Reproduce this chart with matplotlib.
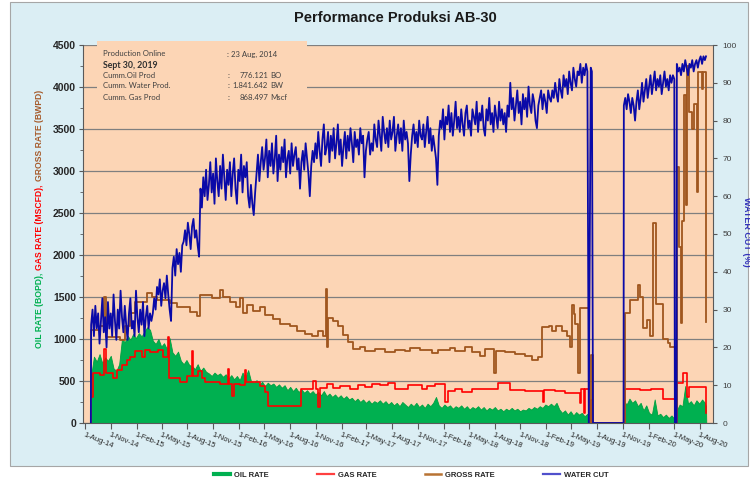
import matplotlib
matplotlib.use('Agg')
import matplotlib.pyplot as plt
import matplotlib.dates as mdates
from matplotlib.patches import Rectangle
from matplotlib.lines import Line2D
from matplotlib.ticker import MultipleLocator
import pandas as pd

# ---------------- data ----------------
title = 'Performance Produksi AB-30'
legend_labels = ['OIL RATE', 'GAS RATE', 'GROSS RATE', 'WATER CUT']
info_left = ['Production Online', 'Sept 30, 2019', 'Cumm.Oil Prod', 'Cumm. Water Prod.', 'Cumm. Gas Prod']
info_values = ['23 Aug, 2014', '', '776.121', '1.841.642', '868.497']
info_units = ['', '', 'BO', 'BW', 'Mscf']

# Water cut (%) - 5-day samples
wc_seg1_start = '2014-08-23'
wc_seg1 = [26, 30, 23, 31, 25, 29, 21, 27, 33, 24, 28, 20, 32, 25, 29, 23, 34, 27, 22, 30,
           25, 35, 28, 24, 31, 26, 22, 29, 33, 25, 27, 23, 35, 28, 24, 30, 26, 32, 23, 28,
           31, 25, 29, 27,
           29, 33, 30, 36, 34, 38, 31, 35, 37, 33, 39, 34, 30, 27,
           41, 44, 39, 46, 42, 45, 40, 47,
           48, 51, 47, 53, 50, 46, 52, 54, 49, 51, 47, 44,
           62, 57, 65, 60, 67, 59, 63, 69, 61, 66, 58, 70, 64, 60, 68, 62, 71, 65, 59, 67,
           63, 69, 60, 66, 70, 62, 58, 67, 64, 71, 61, 68, 65, 69,
           60, 57, 63, 58, 55, 61,
           66, 71, 64, 69, 73, 67, 70, 75, 65, 72, 68, 74, 66, 70, 76, 64, 71, 67, 73, 69,
           75, 65, 70, 72, 66, 74, 68, 71, 73, 67, 70, 62,
           69, 72, 67, 74, 70, 66, 60, 68, 72, 69,
           74, 70, 77, 72, 68, 75, 79, 71, 73, 77, 69, 76, 72, 78, 70, 74, 79, 71, 75, 68,
           73, 77, 70, 76, 72, 78, 74, 69, 77, 73, 75, 71, 78, 74, 76, 65, 72, 75, 77, 71,
           74, 72,
           79, 75, 73, 80, 76, 72, 81, 77, 74, 78, 73, 80, 75, 77, 81, 72, 76, 79, 74, 78,
           72, 80, 75, 77, 74, 64, 71, 76,
           79, 74, 77, 73, 80, 76, 75, 79, 73, 77, 81, 74, 78, 72, 76, 73, 70, 63,
           76, 80, 78, 83, 75, 81, 79, 84, 77, 82, 76, 80, 85, 78, 81, 77, 83, 79, 76, 82,
           84, 78, 80, 76, 83, 81, 79, 85, 77, 82, 80, 84, 78, 76, 83, 80, 86, 79, 82, 77,
           84, 81, 78, 85, 80, 83, 79, 82, 77, 84, 81, 90,
           83, 86, 80, 84, 88, 82, 85, 79, 87, 83, 86, 81, 89, 84, 82, 87, 85, 80, 78, 84,
           86, 88, 83, 87, 85, 82, 88, 86,
           85, 88, 86, 90, 87, 85, 91, 88, 86, 92, 89, 91, 87, 93, 90, 88, 94, 91, 89, 93,
           92, 95, 90, 94, 92, 95, 93]
wc_gap1_dates = ['2019-07-03', '2019-07-10', '2019-07-14', '2019-07-18', '2019-11-04']
wc_gap1_vals = [0, 94, 93, 0, 0]
wc_seg2_start = '2019-11-05'
wc_seg2 = [84, 86, 83, 87, 85, 82, 86, 84, 80, 85, 88, 83, 86, 90, 85, 88, 91, 86, 89, 92,
           87, 90, 93, 88, 91, 89, 92, 87, 90, 93, 89, 91, 88, 92, 90, 92]
wc_gap2_dates = ['2020-05-03', '2020-05-05', '2020-05-11']
wc_gap2_vals = [91, 0, 0]
wc_seg3_start = '2020-05-12'
wc_seg3 = [95, 93, 94, 92, 95, 93, 96, 94, 92, 95, 94, 96, 93, 95, 96, 94, 96, 97, 95, 97, 96]
wc_end_dates = ['2020-08-24']
wc_end_vals = [97]

# Oil rate (BOPD) - 10-day samples
oil_seg1_start = '2014-08-23'
oil_seg1 = [560, 790, 730, 820, 710, 780, 740, 800, 650, 620,
            700, 1000, 960, 1040, 990, 1060, 1010, 1070, 1030, 1090,
            1140, 1110,
            980, 940, 1000, 910, 950, 880,
            1010,
            840, 800, 850,
            740, 700, 750, 690,
            680, 640, 700, 620, 660, 610,
            590, 560, 600, 570, 590,
            550, 580, 530, 570, 520, 560, 510, 600, 540, 630, 500,
            480, 510, 460, 490, 440, 480, 450, 470, 430, 460,
            420, 450, 390, 430, 380, 420, 370, 400, 360, 390, 350, 380,
            340, 370, 330, 380, 320, 350, 310, 340, 300, 330, 290, 320,
            280, 300, 260, 290, 250, 280, 240, 270, 230, 260, 240, 270,
            230, 260, 220, 250, 210, 240, 200, 250, 220, 190, 230, 200, 240, 190, 220, 180, 230, 200, 240, 310,
            210, 180, 220, 190, 210, 170, 200, 180, 210, 170, 200, 160, 190, 170, 200, 160, 190, 150, 180, 160,
            190, 150, 170, 140, 170, 150, 180, 150, 170, 140, 160, 150, 180, 160, 190, 170, 200, 180, 220, 200,
            230, 200, 240, 160, 120, 150, 100, 140, 90, 130, 100, 120, 80, 110]
oil_gap1_dates = ['2019-07-02', '2019-07-03', '2019-11-04']
oil_gap1_vals = [100, 0, 0]
oil_seg2_start = '2019-11-05'
oil_seg2 = [260, 220, 290, 240, 270, 200, 240, 150, 210, 120, 100, 280, 90, 110, 70, 100, 60, 90, 50]
oil_gap2_dates = ['2020-05-05', '2020-05-11']
oil_gap2_vals = [0, 0]
oil_seg3_start = '2020-05-12'
oil_seg3 = [150, 220, 200, 440, 230, 260, 210, 270, 230, 280, 240]
oil_end_dates = ['2020-08-24', '2020-08-25']
oil_end_vals = [200, 0]

# Gross rate (BWPD) - step changes
gross_steps = [('2014-08-21', 0), ('2014-08-22', 1110), ('2014-09-23', 1150), ('2014-10-08', 1500),
               ('2014-10-15', 1020), ('2014-12-04', 990), ('2014-12-22', 1150), ('2015-01-08', 1310),
               ('2015-01-26', 1440), ('2015-03-10', 1550), ('2015-03-28', 1500), ('2015-04-15', 1460),
               ('2015-05-31', 1430), ('2015-06-25', 1380), ('2015-08-10', 1320), ('2015-09-04', 1270),
               ('2015-09-15', 1520), ('2015-10-28', 1490), ('2015-11-25', 1580), ('2015-12-06', 1500),
               ('2015-12-31', 1440), ('2016-01-21', 1380), ('2016-02-05', 1490), ('2016-02-15', 1310),
               ('2016-03-01', 1400), ('2016-03-22', 1330), ('2016-04-16', 1380), ('2016-05-04', 1290),
               ('2016-06-01', 1240), ('2016-06-26', 1180), ('2016-08-01', 1150), ('2016-08-26', 1100),
               ('2016-09-24', 1060), ('2016-10-19', 1030), ('2016-11-09', 1090), ('2016-11-27', 1040),
               ('2016-12-07', 1600), ('2016-12-11', 900), ('2016-12-15', 1250), ('2017-01-01', 1220),
               ('2017-01-19', 1150), ('2017-02-06', 1050), ('2017-02-24', 960), ('2017-03-14', 880),
               ('2017-04-08', 910), ('2017-04-26', 860), ('2017-05-31', 880), ('2017-07-06', 850),
               ('2017-08-11', 870), ('2017-09-15', 860), ('2017-10-03', 890), ('2017-11-08', 870),
               ('2017-12-21', 830), ('2018-01-11', 870), ('2018-02-23', 890), ('2018-03-13', 860),
               ('2018-04-17', 900), ('2018-05-12', 840), ('2018-06-10', 800), ('2018-06-28', 880),
               ('2018-07-30', 600), ('2018-08-06', 860), ('2018-09-07', 850), ('2018-10-13', 820),
               ('2018-11-17', 800), ('2018-12-12', 750), ('2019-01-03', 790), ('2019-01-17', 1140),
               ('2019-02-11', 1150), ('2019-02-21', 1090), ('2019-03-08', 1160), ('2019-03-29', 1100),
               ('2019-04-16', 1030), ('2019-04-27', 910), ('2019-05-04', 1410), ('2019-05-10', 1300),
               ('2019-05-16', 1180), ('2019-05-25', 600), ('2019-06-01', 1370), ('2019-07-03', 0),
               ('2019-07-10', 810), ('2019-07-18', 0), ('2019-11-09', 1310), ('2019-11-27', 1460),
               ('2019-12-25', 1640), ('2020-01-01', 1500), ('2020-01-12', 1130), ('2020-01-26', 1230),
               ('2020-02-06', 1030), ('2020-02-17', 2380), ('2020-02-27', 1420), ('2020-03-23', 1000),
               ('2020-04-10', 950), ('2020-04-17', 900), ('2020-05-05', 0), ('2020-05-12', 3050),
               ('2020-05-19', 2100), ('2020-05-27', 1190), ('2020-05-30', 2400), ('2020-06-06', 3900),
               ('2020-06-13', 2600), ('2020-06-17', 4250), ('2020-06-24', 3700), ('2020-07-05', 3500),
               ('2020-07-12', 3800), ('2020-07-23', 2750), ('2020-07-26', 4180), ('2020-08-10', 3980),
               ('2020-08-13', 4180), ('2020-08-24', 1200), ('2020-08-25', 1200)]

# Gas rate (MSCFD) - step changes
gas_steps = [('2014-08-21', 0), ('2014-08-22', 310), ('2014-08-30', 600), ('2014-09-23', 570),
             ('2014-10-08', 880), ('2014-10-15', 590), ('2014-11-08', 530), ('2014-11-23', 630),
             ('2014-12-11', 690), ('2014-12-29', 750), ('2015-01-08', 790), ('2015-01-26', 860),
             ('2015-02-20', 790), ('2015-03-03', 870), ('2015-03-21', 840), ('2015-04-18', 870),
             ('2015-05-06', 790), ('2015-05-20', 780), ('2015-05-24', 1020), ('2015-05-28', 540),
             ('2015-07-06', 490), ('2015-07-31', 560), ('2015-08-18', 860), ('2015-08-21', 560),
             ('2015-09-08', 620), ('2015-09-22', 530), ('2015-10-03', 490), ('2015-11-25', 470),
             ('2015-12-24', 640), ('2015-12-28', 460), ('2016-01-07', 320), ('2016-01-14', 470),
             ('2016-02-05', 450), ('2016-02-23', 630), ('2016-02-26', 490), ('2016-04-16', 440),
             ('2016-05-04', 370), ('2016-05-15', 200), ('2016-09-09', 410), ('2016-10-22', 500),
             ('2016-11-02', 410), ('2016-11-09', 190), ('2016-11-16', 420), ('2016-12-11', 460),
             ('2017-01-01', 420), ('2017-01-26', 440), ('2017-03-03', 410), ('2017-04-01', 450),
             ('2017-04-26', 430), ('2017-05-21', 470), ('2017-06-18', 450), ('2017-07-17', 480),
             ('2017-08-11', 410), ('2017-09-26', 450), ('2017-11-15', 410), ('2017-12-03', 440),
             ('2017-12-31', 470), ('2018-02-05', 250), ('2018-02-16', 380), ('2018-03-13', 400),
             ('2018-04-06', 370), ('2018-05-12', 400), ('2018-08-13', 480), ('2018-09-25', 390),
             ('2018-11-17', 380), ('2019-01-20', 250), ('2019-01-24', 390), ('2019-03-04', 380),
             ('2019-04-09', 360), ('2019-06-01', 240), ('2019-06-04', 400), ('2019-06-16', 120),
             ('2019-06-19', 400), ('2019-07-03', 0), ('2019-07-10', 270), ('2019-07-18', 0),
             ('2019-11-09', 400), ('2020-01-01', 390), ('2020-02-09', 400), ('2020-03-23', 280),
             ('2020-05-05', 0), ('2020-05-12', 480), ('2020-06-03', 590), ('2020-06-17', 310),
             ('2020-06-24', 430), ('2020-08-24', 120), ('2020-08-25', 120)]

# ---------------- build series ----------------
def seq(start, vals, step):
    return list(pd.date_range(start, periods=len(vals), freq=step))

def ts(lst):
    return [pd.Timestamp(d) for d in lst]

wc_x = ([pd.Timestamp('2014-08-22')] + seq(wc_seg1_start, wc_seg1, '5D') + ts(wc_gap1_dates)
        + seq(wc_seg2_start, wc_seg2, '5D') + ts(wc_gap2_dates) + seq(wc_seg3_start, wc_seg3, '5D')
        + ts(wc_end_dates))
wc_y = [0] + wc_seg1 + wc_gap1_vals + wc_seg2 + wc_gap2_vals + wc_seg3 + wc_end_vals

oil_x = ([pd.Timestamp('2014-08-22')] + seq(oil_seg1_start, oil_seg1, '10D') + ts(oil_gap1_dates)
         + seq(oil_seg2_start, oil_seg2, '10D') + ts(oil_gap2_dates) + seq(oil_seg3_start, oil_seg3, '10D')
         + ts(oil_end_dates))
oil_y = [0] + oil_seg1 + oil_gap1_vals + oil_seg2 + oil_gap2_vals + oil_seg3 + oil_end_vals

gross_x = [pd.Timestamp(d) for d, v in gross_steps]
gross_y = [v for d, v in gross_steps]
gas_x = [pd.Timestamp(d) for d, v in gas_steps]
gas_y = [v for d, v in gas_steps]

# ---------------- styling ----------------
C_OIL = '#00b050'
C_GAS = '#ff0000'
C_GROSS = '#a0561e'
C_WC = '#0a0aa8'
FONT = 'Liberation Sans'

W, H = 750, 483
fig = plt.figure(figsize=(7.5, 4.83), dpi=100)
fig.patch.set_facecolor('white')
fig.add_artist(Rectangle((10 / W, 1 - 466 / H), (748 - 10) / W, (466 - 2) / H,
                         transform=fig.transFigure, facecolor='#dbeef4',
                         edgecolor='#a6a6a6', lw=0.8, zorder=-5))

ax = fig.add_axes([83 / W, 1 - 423 / H, 630 / W, 378 / H])
ax.set_facecolor('#fcd5b5')
ax.set_axisbelow(True)

ax.fill_between(oil_x, oil_y, 0, color=C_OIL, lw=0.6, edgecolor='#00a040', zorder=2)
ax.plot(gas_x, gas_y, drawstyle='steps-post', color=C_GAS, lw=1.2, zorder=3)
ax.plot(gross_x, gross_y, drawstyle='steps-post', color=C_GROSS, lw=1.3, zorder=4)

ax.set_ylim(0, 4500)
ax.set_xlim(pd.Timestamp('2014-07-25'), pd.Timestamp('2020-09-18'))
ax.yaxis.set_major_locator(MultipleLocator(500))
ax.yaxis.set_minor_locator(MultipleLocator(250))
ax.grid(axis='y', which='major', color='#7f7f7f', lw=0.9)
ax.xaxis.set_major_locator(mdates.MonthLocator(bymonth=[2, 5, 8, 11], bymonthday=1))
ax.xaxis.set_major_formatter(mdates.DateFormatter('1-%b-%y'))

for s in ['left', 'bottom']:
    ax.spines[s].set_color('#595959')
    ax.spines[s].set_linewidth(0.8)
ax.spines['top'].set_visible(False)
ax.spines['right'].set_visible(False)

ax.tick_params(axis='y', which='major', direction='out', length=3, color='#595959', pad=2,
               labelsize=7.5, labelcolor='#262626')
ax.tick_params(axis='y', which='minor', direction='out', length=2, color='#595959')
ax.tick_params(axis='x', direction='out', length=4, color='#595959', pad=2,
               labelsize=5.5, labelcolor='#262626')
for lab in ax.get_yticklabels():
    lab.set_fontweight('bold')
    lab.set_family(FONT)
for lab in ax.get_xticklabels():
    lab.set_rotation(-22)
    lab.set_ha('left')
    lab.set_va('top')
    lab.set_rotation_mode('anchor')
    lab.set_family(FONT)

ax2 = ax.twinx()
ax2.plot(wc_x, wc_y, color=C_WC, lw=1.3, zorder=5)
ax2.set_ylim(0, 100)
ax2.yaxis.set_major_locator(MultipleLocator(10))
for s in ['left', 'top', 'bottom']:
    ax2.spines[s].set_visible(False)
ax2.spines['right'].set_color('#595959')
ax2.spines['right'].set_linewidth(0.8)
ax2.tick_params(axis='y', direction='out', length=3, color='#595959', pad=4,
                labelsize=6, labelcolor='#404040')
for lab in ax2.get_yticklabels():
    lab.set_family(FONT)

# info box (covers grid lines)
ax2.add_patch(Rectangle(((97 - 83) / 630, (423 - 115) / 378), (307 - 97) / 630, 1.01 - (423 - 115) / 378,
                        transform=ax2.transAxes, facecolor='#fcd5b5', edgecolor='none',
                        zorder=6, clip_on=False))
info_y = [54, 65, 76, 86, 97]
for i, (l, v, u, yy) in enumerate(zip(info_left, info_values, info_units, info_y)):
    if i == 1:
        fig.text(103 / W, 1 - yy / H, l, fontsize=6.3, fontweight='bold', family='Lato',
                 color='#303030', va='center', ha='left', zorder=10)
        continue
    fig.text(103 / W, 1 - yy / H, l, fontsize=5.6, family='Lato', color='#404040',
             va='center', ha='left', zorder=10)
    if i == 0:
        fig.text(227 / W, 1 - yy / H, ': ' + v, fontsize=5.6, family='Lato', color='#404040',
                 va='center', ha='left', zorder=10)
    else:
        fig.text(228 / W, 1 - yy / H, ':', fontsize=5.6, family='Lato', color='#404040',
                 va='center', ha='left', zorder=10)
        fig.text(268 / W, 1 - yy / H, v, fontsize=5.6, family='Lato', color='#404040',
                 va='center', ha='right', zorder=10)
        fig.text(270 / W, 1 - yy / H, u, fontsize=5.6, family='Lato', color='#404040',
                 va='center', ha='left', zorder=10)

# title
fig.text(395 / W, 1 - 18 / H, title, fontsize=10.5, fontweight='bold', family=FONT,
         color='#1a1a1a', ha='center', va='center')

# multi-coloured left label
renderer = fig.canvas.get_renderer()
parts = [('OIL RATE (BOPD),', C_OIL), ('GAS RATE (MSCFD),', C_GAS), ('GROSS RATE (BWPD)', '#a65a2a')]
objs, hs = [], []
for s, c in parts:
    t = fig.text(0, 0, s, rotation=90, color=c, fontsize=6.2, fontweight='bold', family=FONT,
                 ha='center', va='bottom')
    objs.append(t)
    hs.append(t.get_window_extent(renderer).height)
gap = 3
total = sum(hs) + gap * (len(hs) - 1)
ypix = (H - 219) - total / 2
for t, h in zip(objs, hs):
    t.set_position((40 / W, ypix / H))
    ypix += h + gap

fig.text(747 / W, 1 - 232 / H, 'WATER CUT (%)', rotation=270, color='#3333bb', fontsize=6.5,
         fontweight='bold', family=FONT, ha='center', va='center')

# legend
handles = [Line2D([0], [0], color=C_OIL, lw=3),
           Line2D([0], [0], color='#ff4040', lw=1.6),
           Line2D([0], [0], color='#b87333', lw=1.8),
           Line2D([0], [0], color='#5050cc', lw=1.6)]
fig.legend(handles, legend_labels, ncol=4, loc='center', bbox_to_anchor=(411 / W, 1 - 475 / H),
           frameon=False, prop={'family': FONT, 'size': 5.5, 'weight': 'bold'},
           handlelength=2.2, handletextpad=0.5, columnspacing=6.3, labelcolor='#262626')

fig.savefig('out.png', dpi=100, facecolor='white')
